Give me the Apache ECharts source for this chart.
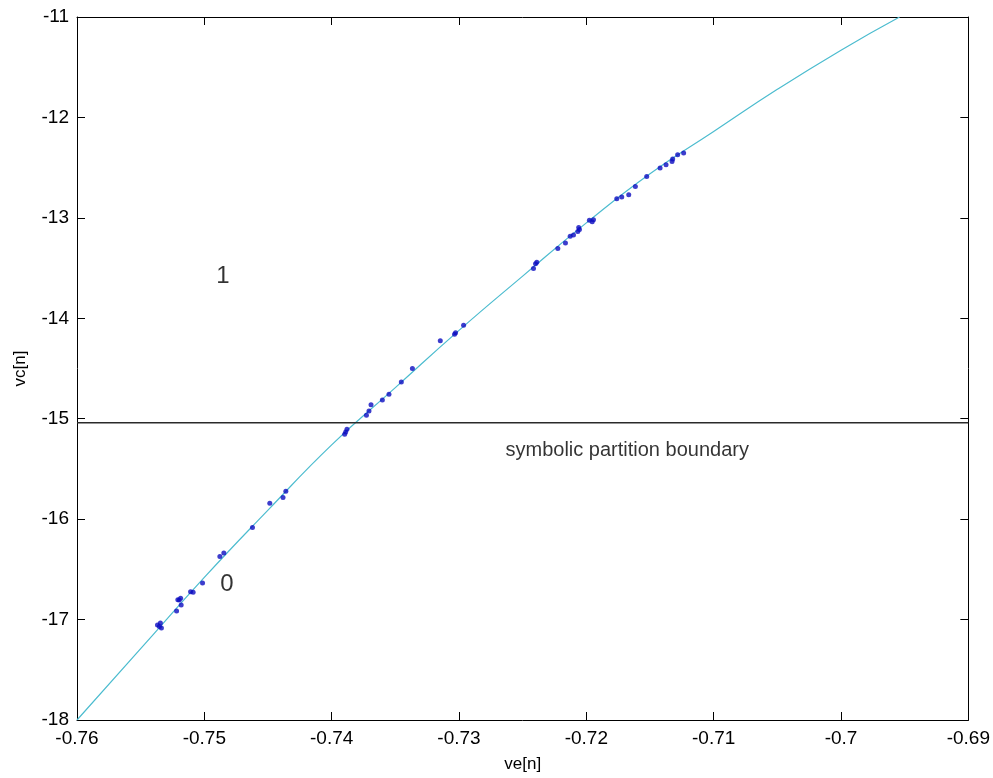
<!DOCTYPE html>
<html>
<head>
<meta charset="utf-8">
<title>Symbolic partition of the return map</title>
<script src="https://cdn.jsdelivr.net/npm/echarts@6/dist/echarts.min.js"></script>
<style>
  html, body { margin: 0; padding: 0; background: #fff; overflow: hidden; }
  #chart { width: 993px; height: 778px; }
</style>
</head>
<body>
<div id="chart"></div>
<script>
// Axis ranges and tick labels
const xTicks = [-0.76, -0.75, -0.74, -0.73, -0.72, -0.71, -0.7, -0.69];
const yTicks = [-18, -17, -16, -15, -14, -13, -12, -11];

// Fitted curve vc = f(ve)
const curveX = [-0.76, -0.755, -0.75, -0.745, -0.74, -0.735, -0.73, -0.725,
                -0.72, -0.715, -0.71, -0.705, -0.70, -0.6954];
const curveY = [-18.0, -17.29, -16.58, -15.91, -15.26, -14.69, -14.12, -13.58,
                -13.05, -12.56, -12.14, -11.72, -11.33, -11.0];

// Measured samples (ve[n], vc[n])
const dotX = [-0.75368, -0.75345, -0.75337, -0.75353, -0.75218, -0.75182, -0.75197, -0.75208,
              -0.75186, -0.75108, -0.75088, -0.75014, -0.74878, -0.74847, -0.74622, -0.74486,
              -0.74382, -0.74360, -0.73898, -0.7389, -0.7388, -0.73727, -0.73707, -0.73691,
              -0.73602, -0.7355, -0.73453, -0.73366, -0.73147, -0.73035, -0.73027, -0.72964,
              -0.72415, -0.72399, -0.72389, -0.72224, -0.72164, -0.72127, -0.72101, -0.72067,
              -0.72054, -0.7206, -0.71976, -0.71954, -0.71944, -0.71761, -0.71722, -0.71667,
              -0.71615, -0.71526, -0.71421, -0.71374, -0.71327, -0.71322, -0.71283, -0.71236];
const dotY = [-17.054, -17.034, -17.083, -17.069, -16.915, -16.855, -16.805, -16.802,
              -16.788, -16.723, -16.729, -16.636, -16.371, -16.338, -16.083, -15.841,
              -15.784, -15.722, -15.155, -15.132, -15.105, -14.966, -14.923, -14.860,
              -14.814, -14.757, -14.635, -14.499, -14.224, -14.158, -14.144, -14.069,
              -13.505, -13.458, -13.442, -13.306, -13.25, -13.184, -13.17, -13.137,
              -13.117, -13.097, -13.025, -13.038, -13.018, -12.809, -12.792, -12.769,
              -12.687, -12.587, -12.504, -12.471, -12.438, -12.415, -12.372, -12.355];

// Partition threshold on vc[n]
const boundaryY = -15.04;

// Region symbols and caption
const regionLabels = ['1', '0'];
const regionX = [-0.74855, -0.74823];
const regionY = [-13.584, -16.646];
const captionText = 'symbolic partition boundary';
const captionPos = [-0.72635, -15.314];

const FONT = '"Liberation Sans", Arial, sans-serif';
const xMin = xTicks[0], xMax = xTicks[xTicks.length - 1];
const yMin = yTicks[0], yMax = yTicks[yTicks.length - 1];

const fmt = v => String(+(+v).toFixed(2));

const baseX = {
  type: 'value', min: xMin, max: xMax, interval: 0.01,
  axisLine: { show: true, lineStyle: { color: '#000', width: 1 } },
  axisTick: { show: true, inside: true, length: 8, lineStyle: { color: '#000' } },
  splitLine: { show: false }
};
const baseY = {
  type: 'value', min: yMin, max: yMax, interval: 1,
  axisLine: { show: true, lineStyle: { color: '#000', width: 1 } },
  axisTick: { show: true, inside: true, length: 8, lineStyle: { color: '#000' } },
  splitLine: { show: false }
};

const chart = echarts.init(document.getElementById('chart'), null, { renderer: 'canvas' });
chart.setOption({
  animation: false,
  backgroundColor: '#fff',
  grid: { left: 77, top: 17, width: 892, height: 704, containLabel: false },
  xAxis: [
    Object.assign({}, baseX, {
      position: 'bottom',
      name: 've[n]', nameLocation: 'middle', nameGap: 36,
      nameTextStyle: { fontFamily: FONT, fontSize: 17, color: '#000' },
      axisLabel: { show: true, margin: 9, fontFamily: FONT, fontSize: 19, color: '#000', formatter: fmt }
    }),
    Object.assign({}, baseX, { position: 'top', axisLabel: { show: false } })
  ],
  yAxis: [
    Object.assign({}, baseY, {
      position: 'left',
      name: 'vc[n]', nameLocation: 'middle', nameGap: 48, nameRotate: 90,
      nameTextStyle: { fontFamily: FONT, fontSize: 17, color: '#000' },
      axisLabel: { show: true, margin: 8, fontFamily: FONT, fontSize: 19, color: '#000', formatter: fmt }
    }),
    Object.assign({}, baseY, { position: 'right', axisLabel: { show: false } })
  ],
  series: [
    {
      type: 'line', name: 'curve', xAxisIndex: 0, yAxisIndex: 0,
      data: curveX.map((x, i) => [x, curveY[i]]),
      smooth: 0.5, showSymbol: false, clip: true,
      lineStyle: { color: '#4cbccf', width: 1.2 }, z: 2
    },
    {
      type: 'line', name: 'boundary', xAxisIndex: 0, yAxisIndex: 0,
      data: [[xMin, boundaryY], [xMax, boundaryY]],
      showSymbol: false,
      lineStyle: { color: '#2a2a2a', width: 1.4 }, z: 3
    },
    {
      type: 'scatter', name: 'samples', xAxisIndex: 0, yAxisIndex: 0,
      data: dotX.map((x, i) => [x, dotY[i]]),
      symbol: 'circle', symbolSize: 5,
      itemStyle: { color: '#0c0cc0' }, z: 4
    },
    {
      type: 'scatter', name: 'regions', xAxisIndex: 0, yAxisIndex: 0,
      data: regionLabels.map((t, i) => ({ value: [regionX[i], regionY[i]], name: t })),
      symbolSize: 0,
      label: {
        show: true, position: 'inside', formatter: p => p.name,
        fontFamily: FONT, fontSize: 24, color: '#000'
      }, z: 5
    },
    {
      type: 'scatter', name: 'caption', xAxisIndex: 0, yAxisIndex: 0,
      data: [{ value: captionPos, name: captionText }],
      symbolSize: 0,
      label: {
        show: true, position: 'right', distance: 0, formatter: p => p.name,
        fontFamily: FONT, fontSize: 20, color: '#000'
      }, z: 5
    }
  ]
});
</script>
</body>
</html>
